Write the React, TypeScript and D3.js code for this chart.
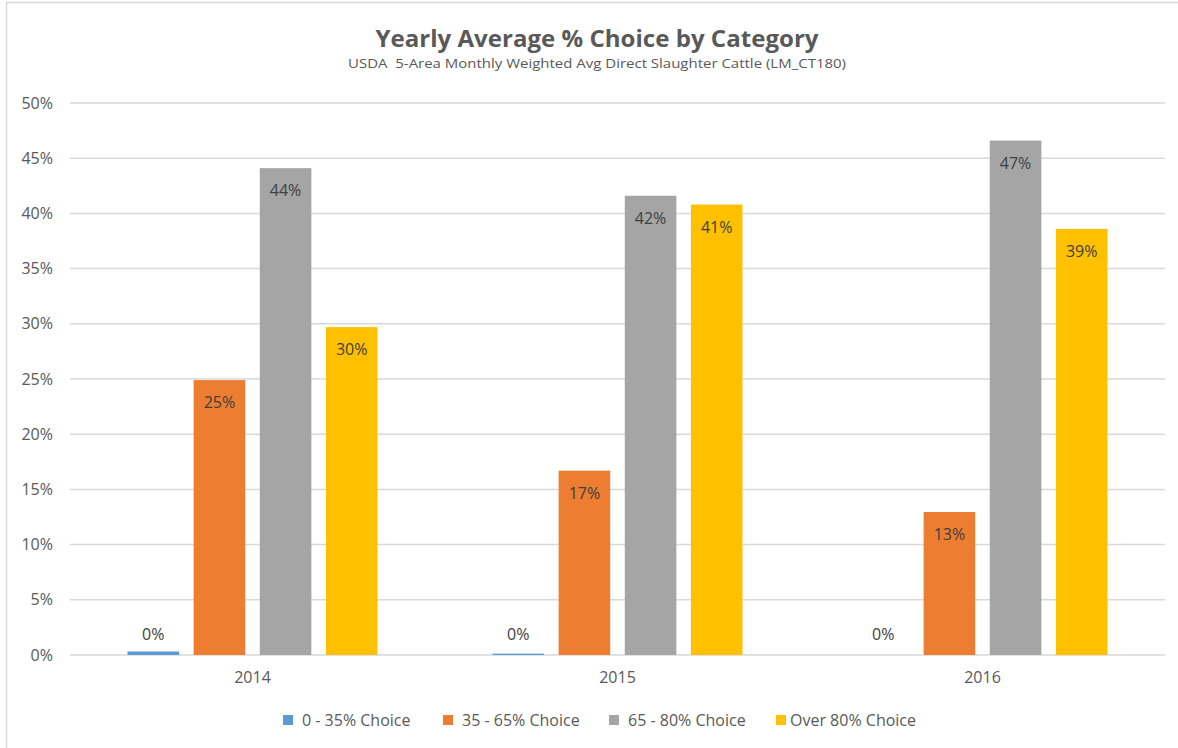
import React from "react";
import * as d3 from "d3";

const years = ["2014", "2015", "2016"];
const seriesNames = ["0 - 35% Choice", "35 - 65% Choice", "65 - 80% Choice", "Over 80% Choice"];
const seriesColors = ["#5B9BD5", "#ED7D31", "#A5A5A5", "#FFC000"];
// values in % per series, one entry per year
const choice0to35 = [0.32, 0.12, 0];
const choice35to65 = [24.9, 16.7, 12.95];
const choice65to80 = [44.1, 41.6, 46.6];
const choiceOver80 = [29.7, 40.8, 38.6];
const yTicks = [0, 5, 10, 15, 20, 25, 30, 35, 40, 45, 50];

const seriesValues = [choice0to35, choice35to65, choice65to80, choiceOver80];

const W = 1178;
const H = 748;
const font = "'Open Sans', sans-serif";
const textColor = "#595959";
const labelColor = "#404040";

export default function App() {
  const plotLeft = 70;
  const plotRight = 1165;
  const plotTop = 103;
  const plotBottom = 655;

  const x0 = d3.scaleBand<string>().domain(years).range([plotLeft, plotRight]).padding(0);
  const groupPad = 57.5;
  const x1 = d3
    .scaleBand<number>()
    .domain(d3.range(seriesNames.length))
    .range([groupPad, x0.bandwidth() - groupPad])
    .paddingInner(0.22)
    .paddingOuter(0);
  const y = d3.scaleLinear().domain([0, 50]).range([plotBottom, plotTop]);

  const legendX = [283, 443, 609, 776];

  return (
    <svg
      width={W}
      height={H}
      style={{ position: "absolute", left: 0, top: 0, background: "#fff" }}
      fontFamily={font}
    >
      <rect x={6.5} y={2.5} width={W + 20} height={H + 20} fill="#fff" stroke="#D9D9D9" strokeWidth={1.5} />

      <text
        x={597}
        y={47}
        textAnchor="middle"
        fontSize={23}
        fontWeight={700}
        fill={textColor}
        textLength={443}
        lengthAdjust="spacingAndGlyphs"
      >
        Yearly Average % Choice by Category
      </text>
      <text
        x={597}
        y={68}
        textAnchor="middle"
        fontSize={13.5}
        fill={textColor}
        textLength={498}
        lengthAdjust="spacingAndGlyphs"
        style={{ whiteSpace: "pre" }}
      >
        {"USDA  5-Area Monthly Weighted Avg Direct Slaughter Cattle (LM_CT180)"}
      </text>

      {/* gridlines + y labels */}
      {yTicks.map((t) => (
        <g key={t}>
          <line x1={plotLeft} x2={plotRight} y1={y(t)} y2={y(t)} stroke="#D9D9D9" strokeWidth={1.5} />
          <text x={53} y={y(t)} dy="0.35em" textAnchor="end" fontSize={16} fill={textColor}>
            {t}%
          </text>
        </g>
      ))}

      {/* bars */}
      {years.map((yr, i) => (
        <g key={yr} transform={`translate(${x0(yr)},0)`}>
          {seriesValues.map((vals, s) => {
            const v = vals[i];
            const bx = x1(s)!;
            const bw = x1.bandwidth();
            const top = y(v);
            const inside = v > 5;
            return (
              <g key={s}>
                <rect x={bx} y={top} width={bw} height={plotBottom - top} fill={seriesColors[s]} />
                <text
                  x={bx + bw / 2}
                  y={inside ? top + 28 : y(0) - 15}
                  textAnchor="middle"
                  fontSize={16}
                  fill={labelColor}
                >
                  {Math.round(v)}%
                </text>
              </g>
            );
          })}
          <text x={x0.bandwidth() / 2} y={683} textAnchor="middle" fontSize={16} fill={textColor}>
            {yr}
          </text>
        </g>
      ))}

      {/* legend */}
      {seriesNames.map((name, s) => (
        <g key={name} transform={`translate(${legendX[s]},715)`}>
          <rect x={0} y={0} width={10} height={10} fill={seriesColors[s]} />
          <text x={s === 3 ? 14 : 19} y={11} fontSize={16} fill={textColor}>
            {name}
          </text>
        </g>
      ))}
    </svg>
  );
}
